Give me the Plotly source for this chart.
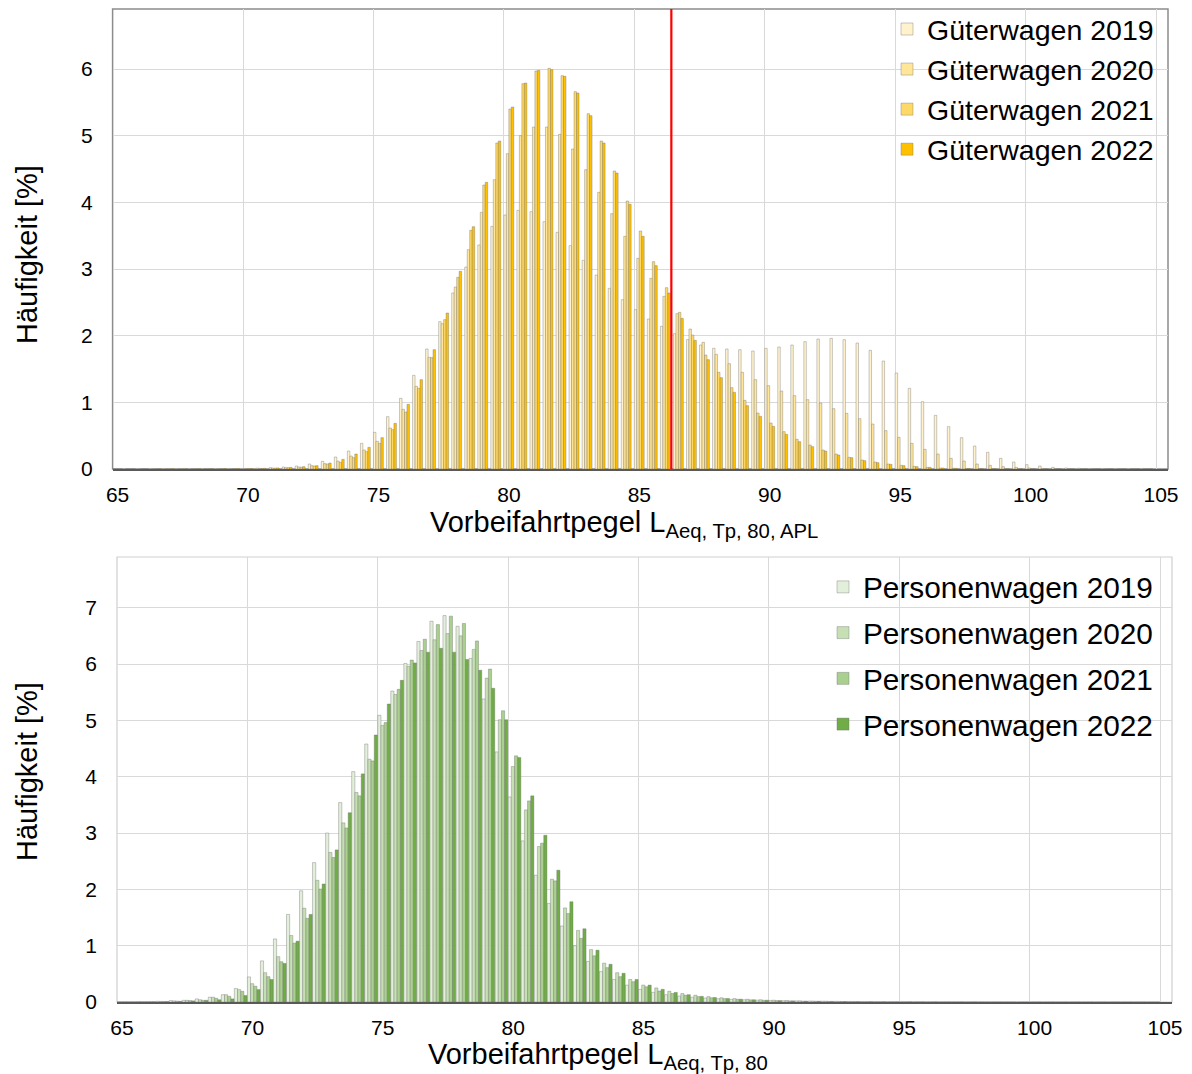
import plotly.graph_objects as go

# ---------------- data ----------------
BINS = [65.0, 65.5, 66.0, 66.5, 67.0, 67.5, 68.0, 68.5, 69.0, 69.5,
        70.0, 70.5, 71.0, 71.5, 72.0, 72.5, 73.0, 73.5, 74.0, 74.5,
        75.0, 75.5, 76.0, 76.5, 77.0, 77.5, 78.0, 78.5, 79.0, 79.5,
        80.0, 80.5, 81.0, 81.5, 82.0, 82.5, 83.0, 83.5, 84.0, 84.5,
        85.0, 85.5, 86.0, 86.5, 87.0, 87.5, 88.0, 88.5, 89.0, 89.5,
        90.0, 90.5, 91.0, 91.5, 92.0, 92.5, 93.0, 93.5, 94.0, 94.5,
        95.0, 95.5, 96.0, 96.5, 97.0, 97.5, 98.0, 98.5, 99.0, 99.5,
        100.0, 100.5, 101.0, 101.5, 102.0, 102.5, 103.0, 103.5, 104.0, 104.5]

gueter_2019 = [0.001, 0.001, 0.002, 0.002, 0.003, 0.003, 0.004, 0.005, 0.006, 0.007,
               0.008, 0.012, 0.02, 0.03, 0.045, 0.075, 0.115, 0.18, 0.27, 0.385,
               0.55, 0.785, 1.06, 1.405, 1.80, 2.21, 2.64, 3.03, 3.36, 3.64,
               3.81, 3.88, 3.86, 3.71, 3.55, 3.35, 3.13, 2.91, 2.71, 2.54,
               2.39, 2.25, 2.14, 2.03, 1.94, 1.86, 1.81, 1.80, 1.79, 1.77,
               1.81, 1.83, 1.86, 1.91, 1.95, 1.96, 1.94, 1.89, 1.78, 1.62,
               1.44, 1.21, 1.01, 0.805, 0.635, 0.47, 0.345, 0.25, 0.16, 0.105,
               0.065, 0.045, 0.025, 0.015, 0.01, 0.006, 0.004, 0.003, 0.002, 0.002]
gueter_2020 = [0.001, 0.001, 0.001, 0.002, 0.002, 0.002, 0.003, 0.004, 0.004, 0.005,
               0.006, 0.009, 0.014, 0.02, 0.03, 0.05, 0.08, 0.12, 0.195, 0.285,
               0.415, 0.615, 0.895, 1.24, 1.675, 2.18, 2.73, 3.29, 3.85, 4.34,
               4.73, 5.00, 5.13, 5.13, 5.02, 4.80, 4.49, 4.15, 3.83, 3.49,
               3.16, 2.86, 2.59, 2.33, 2.10, 1.90, 1.72, 1.58, 1.45, 1.34,
               1.25, 1.17, 1.10, 1.04, 0.99, 0.905, 0.835, 0.755, 0.675, 0.575,
               0.475, 0.385, 0.295, 0.225, 0.16, 0.12, 0.075, 0.055, 0.035, 0.025,
               0.015, 0.01, 0.006, 0.004, 0.003, 0.002, 0.002, 0.001, 0.001, 0.001]
gueter_2021 = [0.001, 0.001, 0.001, 0.001, 0.002, 0.002, 0.003, 0.003, 0.004, 0.005,
               0.006, 0.008, 0.013, 0.02, 0.028, 0.045, 0.075, 0.10, 0.17, 0.26,
               0.385, 0.59, 0.855, 1.21, 1.67, 2.24, 2.875, 3.58, 4.26, 4.89,
               5.40, 5.78, 5.97, 6.01, 5.90, 5.66, 5.33, 4.92, 4.47, 4.02,
               3.57, 3.11, 2.72, 2.35, 2.01, 1.71, 1.45, 1.22, 1.03, 0.84,
               0.69, 0.56, 0.445, 0.36, 0.285, 0.225, 0.175, 0.135, 0.105, 0.075,
               0.055, 0.04, 0.025, 0.015, 0.01, 0.006, 0.004, 0.003, 0.002, 0.002,
               0.001, 0.001, 0.001, 0.001, 0.001, 0.001, 0.001, 0.001, 0.001, 0.001]
gueter_2022 = [0.001, 0.001, 0.001, 0.002, 0.002, 0.003, 0.003, 0.004, 0.005, 0.006,
               0.007, 0.010, 0.016, 0.025, 0.035, 0.05, 0.09, 0.145, 0.225, 0.325,
               0.47, 0.685, 0.97, 1.34, 1.79, 2.34, 2.965, 3.635, 4.30, 4.92,
               5.43, 5.79, 5.98, 5.99, 5.89, 5.64, 5.30, 4.89, 4.44, 3.97,
               3.49, 3.05, 2.64, 2.26, 1.93, 1.64, 1.37, 1.15, 0.95, 0.79,
               0.64, 0.52, 0.41, 0.335, 0.27, 0.21, 0.17, 0.125, 0.095, 0.07,
               0.05, 0.035, 0.025, 0.015, 0.01, 0.006, 0.004, 0.003, 0.002, 0.002,
               0.001, 0.001, 0.001, 0.001, 0.001, 0.001, 0.001, 0.001, 0.001, 0.001]

personen_2019 = [0.005, 0.006, 0.008, 0.012, 0.025, 0.03, 0.055, 0.085, 0.13, 0.24,
                 0.445, 0.73, 1.12, 1.555, 1.975, 2.475, 3.00, 3.54, 4.09, 4.58,
                 5.09, 5.52, 6.01, 6.40, 6.76, 6.86, 6.67, 6.10, 5.38, 4.44,
                 3.64, 2.86, 2.25, 1.75, 1.35, 1.00, 0.72, 0.54, 0.40, 0.30,
                 0.225, 0.17, 0.13, 0.105, 0.085, 0.07, 0.058, 0.048, 0.04, 0.033,
                 0.028, 0.024, 0.02, 0.017, 0.014, 0.012, 0.01, 0.008, 0.007, 0.006,
                 0.005, 0.004, 0.004, 0.003, 0.003, 0.002, 0.002, 0.002, 0.002, 0.001,
                 0.001, 0.001, 0.001, 0.001, 0.001, 0.001, 0.001, 0.001, 0.001, 0.001]
personen_2020 = [0.004, 0.005, 0.007, 0.01, 0.02, 0.03, 0.04, 0.085, 0.13, 0.22,
                 0.325, 0.52, 0.805, 1.18, 1.665, 2.16, 2.655, 3.18, 3.72, 4.31,
                 4.91, 5.46, 5.96, 6.24, 6.43, 6.54, 6.50, 6.26, 5.75, 5.01,
                 4.18, 3.41, 2.76, 2.18, 1.67, 1.27, 0.93, 0.69, 0.52, 0.40,
                 0.30, 0.25, 0.19, 0.15, 0.12, 0.095, 0.075, 0.06, 0.048, 0.04,
                 0.032, 0.026, 0.021, 0.017, 0.014, 0.011, 0.009, 0.007, 0.006, 0.005,
                 0.004, 0.004, 0.003, 0.003, 0.002, 0.002, 0.002, 0.001, 0.001, 0.001,
                 0.001, 0.001, 0.001, 0.001, 0.001, 0.001, 0.001, 0.001, 0.001, 0.001]
personen_2021 = [0.004, 0.005, 0.006, 0.009, 0.016, 0.025, 0.03, 0.065, 0.10, 0.19,
                 0.28, 0.45, 0.715, 1.045, 1.485, 2.005, 2.565, 3.09, 3.66, 4.28,
                 4.96, 5.55, 6.07, 6.44, 6.70, 6.85, 6.72, 6.41, 5.91, 5.17,
                 4.37, 3.57, 2.82, 2.15, 1.57, 1.13, 0.82, 0.61, 0.45, 0.36,
                 0.27, 0.195, 0.15, 0.12, 0.095, 0.075, 0.06, 0.048, 0.038, 0.03,
                 0.025, 0.02, 0.016, 0.013, 0.011, 0.009, 0.007, 0.006, 0.005, 0.004,
                 0.004, 0.003, 0.003, 0.002, 0.002, 0.002, 0.001, 0.001, 0.001, 0.001,
                 0.001, 0.001, 0.001, 0.001, 0.001, 0.001, 0.001, 0.001, 0.001, 0.001]
personen_2022 = [0.003, 0.004, 0.005, 0.008, 0.012, 0.02, 0.03, 0.04, 0.055, 0.115,
                 0.22, 0.40, 0.685, 1.08, 1.555, 2.095, 2.70, 3.36, 4.05, 4.74,
                 5.29, 5.71, 6.02, 6.21, 6.28, 6.21, 6.08, 5.89, 5.57, 5.01,
                 4.34, 3.66, 2.96, 2.34, 1.78, 1.30, 0.92, 0.67, 0.51, 0.40,
                 0.30, 0.225, 0.17, 0.13, 0.10, 0.08, 0.062, 0.05, 0.04, 0.032,
                 0.026, 0.021, 0.017, 0.014, 0.011, 0.009, 0.007, 0.006, 0.005, 0.004,
                 0.004, 0.003, 0.003, 0.002, 0.002, 0.002, 0.001, 0.001, 0.001, 0.001,
                 0.001, 0.001, 0.001, 0.001, 0.001, 0.001, 0.001, 0.001, 0.001, 0.001]

TOP_NAMES = ["Güterwagen 2019", "Güterwagen 2020", "Güterwagen 2021", "Güterwagen 2022"]
BOT_NAMES = ["Personenwagen 2019", "Personenwagen 2020", "Personenwagen 2021", "Personenwagen 2022"]
X_TICKS = [65, 70, 75, 80, 85, 90, 95, 100, 105]
THRESHOLD = 86.42  # red reference line (upper chart)
X_TITLE_TOP = "Vorbeifahrtpegel L<sub>Aeq, Tp, 80, APL</sub>"
X_TITLE_BOT = "Vorbeifahrtpegel L<sub>Aeq, Tp, 80</sub>"
Y_TITLE = "Häufigkeit [%]"

# ---------------- styling ----------------
W, H = 1192, 1074
FONT = "Liberation Sans, Arial, sans-serif"
TOP_COLORS = ["#FFF2CC", "#FFE699", "#FFD966", "#FFC000"]
BOT_COLORS = ["#E2EFDA", "#C6E0B4", "#A9D08E", "#70AD47"]
GRID = "#d9d9d9"
OUTLINE = "rgba(110,110,110,0.75)"

fig = go.Figure()

top_series = [gueter_2019, gueter_2020, gueter_2021, gueter_2022]
bot_series = [personen_2019, personen_2020, personen_2021, personen_2022]

BW_TOP = 0.095
for i, (name, vals, col) in enumerate(zip(TOP_NAMES, top_series, TOP_COLORS)):
    fig.add_trace(go.Bar(
        x=BINS, y=vals, name=name, xaxis="x", yaxis="y",
        offset=i * BW_TOP, width=BW_TOP,
        marker=dict(color=col, line=dict(color=OUTLINE, width=0.5)),
        legend="legend", legendgroup="t%d" % i,
    ))

BW_BOT = 0.122
for i, (name, vals, col) in enumerate(zip(BOT_NAMES, bot_series, BOT_COLORS)):
    fig.add_trace(go.Bar(
        x=BINS, y=vals, name=name, xaxis="x2", yaxis="y2",
        offset=i * BW_BOT, width=BW_BOT,
        marker=dict(color=col, line=dict(color=OUTLINE, width=0.5)),
        legend="legend2", legendgroup="b%d" % i,
    ))

top_x = [112.6 / W, 1168 / W]
top_y = [1 - 469 / H, 1 - 9 / H]
bot_x = [117 / W, 1172 / W]
bot_y = [1 - 1002 / H, 1 - 557 / H]

common_x = dict(
    range=[65, 105.46], tickvals=X_TICKS, showgrid=True, gridcolor=GRID, gridwidth=1,
    zeroline=False, showline=True, linecolor="#595959", linewidth=1.5, ticks="",
    tickfont=dict(family=FONT, size=21, color="#000"), ticklabelshift=5,
    ticklabelstandoff=6, automargin=False,
)
common_y = dict(
    dtick=1, showgrid=True, gridcolor=GRID, gridwidth=1, zeroline=False,
    showline=False, ticks="", tickfont=dict(family=FONT, size=21, color="#000"),
    ticklabelstandoff=19, automargin=False,
)

title_font = dict(family=FONT, size=29, color="#000")
annotations = [
    dict(text=X_TITLE_TOP, xref="paper", yref="paper", x=624 / W, y=1 - 504 / H,
         xanchor="center", yanchor="top", showarrow=False, font=title_font),
    dict(text=X_TITLE_BOT, xref="paper", yref="paper", x=598 / W, y=1 - 1036 / H,
         xanchor="center", yanchor="top", showarrow=False, font=title_font),
    dict(text=Y_TITLE, xref="paper", yref="paper", x=27 / W, y=1 - 255 / H,
         xanchor="center", yanchor="middle", textangle=-90, showarrow=False, font=title_font),
    dict(text=Y_TITLE, xref="paper", yref="paper", x=27 / W, y=1 - 772 / H,
         xanchor="center", yanchor="middle", textangle=-90, showarrow=False, font=title_font),
]

fig.update_layout(
    template="none",
    width=W, height=H, margin=dict(l=0, r=0, t=0, b=0, autoexpand=False),
    paper_bgcolor="white", plot_bgcolor="white",
    barmode="overlay", font=dict(family=FONT, color="#000"),
    xaxis=dict(domain=top_x, anchor="y", **common_x),
    yaxis=dict(domain=top_y, anchor="x", range=[0, 6.9], **common_y),
    xaxis2=dict(domain=bot_x, anchor="y2", **common_x),
    yaxis2=dict(domain=bot_y, anchor="x2", range=[0, 7.9], **common_y),
    legend=dict(x=1159 / W, xanchor="right", y=1 - 4 / H, yanchor="top",
                bgcolor="rgba(0,0,0,0)", font=dict(family=FONT, size=28.5),
                traceorder="grouped", tracegroupgap=0, itemclick=False),
    legend2=dict(x=1158 / W, xanchor="right", y=1 - 561 / H, yanchor="top",
                 bgcolor="rgba(0,0,0,0)", font=dict(family=FONT, size=29.8),
                 traceorder="grouped", tracegroupgap=4, itemclick=False),
    showlegend=True,
    annotations=annotations,
    shapes=[
        dict(type="rect", xref="x domain", yref="y domain", x0=0, x1=1, y0=0, y1=1,
             line=dict(color="#8c8c8c", width=1.5), layer="below"),
        dict(type="rect", xref="x2 domain", yref="y2 domain", x0=0, x1=1, y0=0, y1=1,
             line=dict(color="#cfcfcf", width=1.2), layer="below"),
        dict(type="line", xref="x", yref="y domain", x0=THRESHOLD, x1=THRESHOLD, y0=0, y1=1,
             line=dict(color="#FF0000", width=2.2), layer="above"),
    ],
)

fig.write_html("out.html")
